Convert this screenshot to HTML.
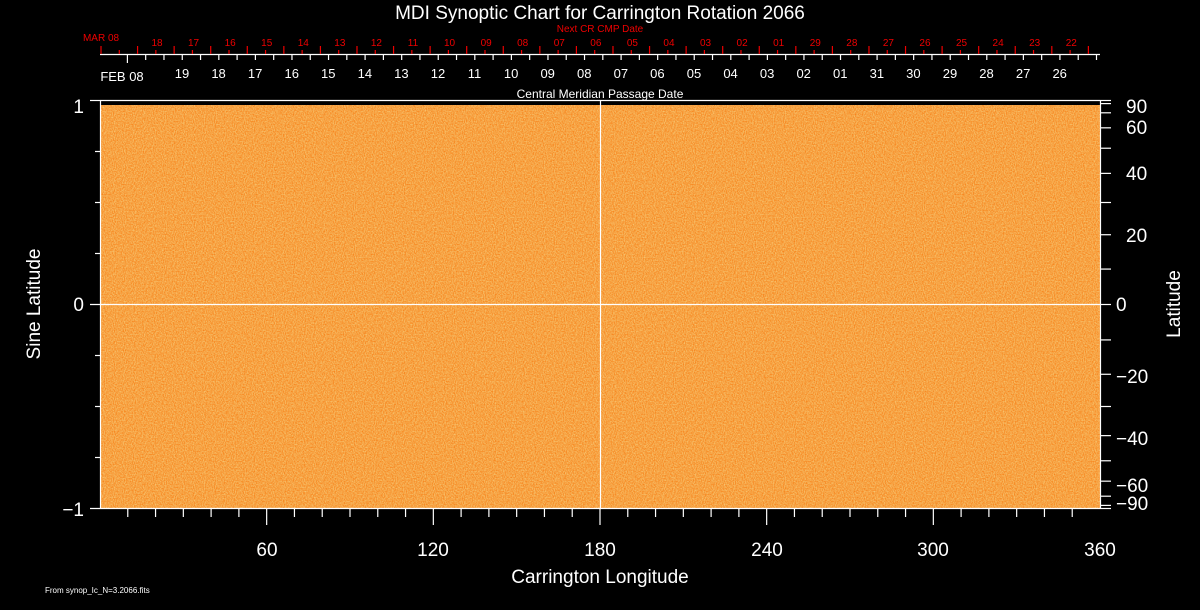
<!DOCTYPE html>
<html><head><meta charset="utf-8"><style>
html,body{margin:0;padding:0;background:#000;width:1200px;height:610px;overflow:hidden}
svg{display:block}
text{font-family:"Liberation Sans",sans-serif;fill:#fff}
text.r{fill:#e00}
</style></head><body>
<svg id="s" width="1200" height="610" viewBox="0 0 1200 610" xmlns="http://www.w3.org/2000/svg">
<defs>
<filter id="n" x="0" y="0" width="100%" height="100%" color-interpolation-filters="sRGB">
<feTurbulence type="fractalNoise" baseFrequency="0.9 0.7" numOctaves="2" seed="3" result="t"/>
<feColorMatrix in="t" type="matrix" values="0 0 0 0 0.97  0.7 0 0 0 0.3  0.9 0 0 0 -0.17  0 0 0 0 1"/>
</filter>
</defs>
<rect x="0" y="0" width="1200" height="610" fill="#000"/>
<rect x="100" y="105" width="1000" height="404" fill="#f7a040"/>
<rect x="100" y="105" width="1000" height="404" filter="url(#n)" opacity="0.6"/>
<g id="ax" stroke="#fff" stroke-width="1.2" fill="none">
<line x1="100" y1="100.5" x2="1100" y2="100.5"/>
<line x1="90" y1="508.5" x2="1100" y2="508.5"/>
<line x1="100.5" y1="100" x2="100.5" y2="509"/>
<line x1="1100.5" y1="100" x2="1100.5" y2="509"/>
<line x1="90" y1="100.5" x2="100" y2="100.5"/>
<line x1="90" y1="304.5" x2="1100" y2="304.5"/>
<line x1="600.5" y1="100" x2="600.5" y2="509"/>
<line x1="100" y1="54.5" x2="1100" y2="54.5"/>
</g>
<g id="rt" stroke="#d00" stroke-width="1.2"></g>
<g font-size="21" text-anchor="middle">
<text x="600" y="19" font-size="19">MDI Synoptic Chart for Carrington Rotation 2066</text>
<text x="600" y="32" font-size="10" class="r">Next CR CMP Date</text>
<text x="600" y="98" font-size="12">Central Meridian Passage Date</text>
<text x="101" y="41" font-size="10" class="r">MAR 08</text>
<text x="122" y="81" font-size="13">FEB 08</text>
</g>
<g id="rl" font-size="10" text-anchor="middle"></g>
<g id="wl" font-size="13" text-anchor="middle"></g>
<g font-size="19" text-anchor="end">
<text x="84" y="113">1</text>
<text x="84" y="311">0</text>
<text x="84" y="516">−1</text>
</g>
<g font-size="19" text-anchor="start">
<text x="1126" y="113">90</text>
<text x="1126" y="134">60</text>
<text x="1126" y="180">40</text>
<text x="1126" y="242">20</text>
<text x="1116" y="311">0</text>
<text x="1116" y="383">−20</text>
<text x="1116" y="445">−40</text>
<text x="1116" y="492">−60</text>
<text x="1116" y="510">−90</text>
</g>
<g font-size="19" text-anchor="middle">
<text x="267" y="556">60</text>
<text x="433" y="556">120</text>
<text x="600" y="556">180</text>
<text x="767" y="556">240</text>
<text x="933" y="556">300</text>
<text x="1100" y="556">360</text>
<text x="600" y="583">Carrington Longitude</text>
<text transform="translate(40,304) rotate(-90)">Sine Latitude</text>
<text transform="translate(1180,304) rotate(-90)">Latitude</text>
</g>
<text x="45" y="593" font-size="8">From synop_Ic_N=3.2066.fits</text>
</svg>
<script>
var NS="http://www.w3.org/2000/svg",s=document.getElementById("s");
function L(g,x1,y1,x2,y2,c){var l=document.createElementNS(NS,"line");l.setAttribute("x1",x1);l.setAttribute("y1",y1);l.setAttribute("x2",x2);l.setAttribute("y2",y2);l.setAttribute("stroke",c||"#fff");l.setAttribute("stroke-width","1.2");g.appendChild(l);}
var g=document.getElementById("ax");
for(var d=10;d<360;d+=10){var x=100+d*1000/360;L(g,x,509,x,d%60==0?525:517);}
[0.75,0.5,0.25,-0.25,-0.5,-0.75].forEach(function(v){var y=304.5-v*204;L(g,95,y,100,y);});
for(var a=-90;a<=90;a+=10){var y=304.5-Math.sin(a*Math.PI/180)*204;L(g,1100,y,1111,y);}
var rt=document.getElementById("rt"),sp=36.57;
for(var k=0;k<=27;k++){var x=101+k*sp;if(x>1100)break;L(rt,x,46,x,54,"#e00");var m=x+sp/2;if(m<1098)L(rt,m,50,m,54,"#e00");}
var rl=document.getElementById("rl"),rlab=["18","17","16","15","14","13","12","11","10","09","08","07","06","05","04","03","02","01","29","28","27","26","25","24","23","22"];
rlab.forEach(function(t,i){var e=document.createElementNS(NS,"text");e.setAttribute("x",157+i*sp);e.setAttribute("y",46);e.setAttribute("class","r");e.textContent=t;rl.appendChild(e);});
for(var k=0;k<55;k++){var x=127.4+k*sp/2;if(x>1100)break;L(g,x,54,x,k==0?63:60);}
var wl=document.getElementById("wl"),wlab=["19","18","17","16","15","14","13","12","11","10","09","08","07","06","05","04","03","02","01","31","30","29","28","27","26"];
wlab.forEach(function(t,i){var e=document.createElementNS(NS,"text");e.setAttribute("x",182+i*sp);e.setAttribute("y",78);e.textContent=t;wl.appendChild(e);});
</script>
</body></html>
